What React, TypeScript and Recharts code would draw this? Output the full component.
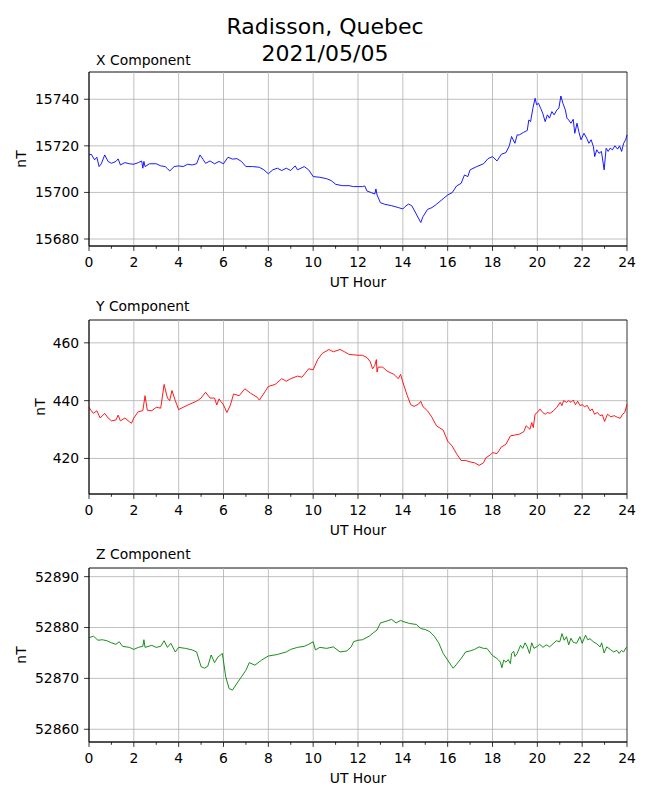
import React from 'react';
import { LineChart, Line, XAxis, YAxis, CartesianGrid, ReferenceLine, ReferenceArea } from 'recharts';

const HOUR_TICKS = [0, 1, 2, 3, 4, 5, 6, 7, 8, 9, 10, 11, 12, 13, 14, 15, 16, 17, 18, 19, 20, 21, 22, 23, 24];
const GRID_HOURS = [2, 4, 6, 8, 10, 12, 14, 16, 18, 20, 22];

// X component (nT)
const xHours = [
    0, 0.1, 0.25, 0.35, 0.45, 0.55, 0.7, 0.85, 1, 1.2, 1.3, 1.4, 1.6, 1.8, 2, 2.2, 2.35, 2.4, 2.45, 2.5, 2.7,
    3, 3.2, 3.4, 3.5, 3.6, 3.8, 4, 4.2, 4.4, 4.6, 4.8, 4.95, 5.1, 5.2, 5.4, 5.6, 5.8, 6, 6.2, 6.4, 6.6, 6.8,
    7, 7.3, 7.6, 7.8, 8, 8.2, 8.4, 8.6, 8.8, 9, 9.2, 9.3, 9.6, 9.8, 10, 10.3, 10.6, 10.8, 11, 11.3, 11.6, 11.8,
    12, 12.2, 12.3, 12.4, 12.6, 12.75, 12.8, 12.85, 13, 13.2, 13.5, 13.8, 14, 14.1, 14.25, 14.4, 14.6, 14.8,
    14.9, 15.1, 15.3, 15.5, 15.8, 16, 16.2, 16.4, 16.6, 16.75, 16.9, 17, 17.3, 17.6, 17.8, 18, 18.2, 18.4,
    18.6, 18.75, 18.85, 19, 19.1,
    19.2, 19.37, 19.55, 19.62, 19.7, 19.8, 19.9, 19.97, 20.05, 20.15,
    20.24, 20.35, 20.45, 20.54, 20.65, 20.75, 20.87, 20.96, 21.05, 21.14,
    21.25, 21.32, 21.4, 21.5, 21.6, 21.67, 21.77, 21.85, 21.95, 22.08,
    22.2, 22.3, 22.4, 22.5, 22.56, 22.65, 22.75, 22.86, 22.98, 23.07,
    23.16, 23.25, 23.35, 23.46, 23.58, 23.67, 23.76, 23.85, 23.94, 24,
];
const xValues = [
    15716.1, 15716.4, 15714.0, 15715.1, 15711.1, 15712.3, 15716.1, 15713.3, 15712.5, 15713.3, 15714.4, 15711.8,
    15712.8, 15712.3, 15712.1, 15712.8, 15713.5, 15710.4, 15713.3, 15711.1, 15712.3,
    15712.3, 15711.4, 15711.1, 15710.2, 15709.2, 15711.1, 15711.4, 15711.1, 15712.1, 15711.8, 15712.3, 15716.1,
    15714.0, 15712.5, 15713.5, 15712.3, 15713.3, 15712.3, 15715.1, 15714.3, 15714.5, 15713.3,
    15711.1, 15711.1, 15710.8, 15709.7, 15708.0, 15709.7, 15710.4, 15709.4, 15710.4, 15709.4, 15711.4, 15709.7,
    15711.1, 15709.7, 15706.8, 15706.5, 15705.9, 15705.1, 15703.5, 15702.9, 15702.9, 15702.5,
    15702.5, 15702.5, 15702.8, 15700.6, 15699.9, 15699.3, 15701.5, 15698.9, 15695.6, 15694.9, 15694.3, 15693.5,
    15692.9, 15693.9, 15695.0, 15694.3, 15690.7, 15687.1,
    15689.6, 15692.7, 15693.5, 15694.9, 15697.3, 15698.9, 15699.9, 15702.8, 15703.9, 15707.5, 15706.8, 15709.7,
    15711.1, 15712.3, 15714.5, 15715.4, 15713.5, 15716.4,
    15717.1, 15720.0, 15724.0, 15721.1, 15724.7,
    15724.7, 15725.7, 15726.6, 15731.1, 15730.4, 15736.1, 15740.4, 15737.6, 15738.3, 15736.1,
    15734.0, 15730.4, 15733.3, 15731.9, 15734.7, 15733.3, 15735.4, 15736.1, 15741.4, 15738.3,
    15735.4, 15731.9, 15731.1, 15729.7, 15731.4, 15725.4, 15729.7, 15726.1, 15722.6, 15725.4,
    15723.3, 15721.1, 15722.6, 15719.7, 15715.4, 15718.3, 15716.8, 15717.6, 15709.7, 15719.0,
    15717.6, 15719.0, 15718.3, 15720.0, 15718.6, 15720.0, 15717.6, 15721.1, 15722.6, 15724.7,
];

// Y component (nT)
const yHours = [
    0, 0.1, 0.2, 0.35, 0.5, 0.7, 0.85, 1, 1.2, 1.3, 1.4, 1.6, 1.8, 1.9, 2, 2.2, 2.4, 2.5, 2.6, 2.8,
    3, 3.2, 3.35, 3.5, 3.6, 3.7, 3.85, 4, 4.2, 4.5, 4.8, 5, 5.2, 5.4, 5.6, 5.7, 5.8, 6, 6.15, 6.3, 6.45, 6.7,
    6.95, 7.2, 7.5, 7.6, 7.85, 8, 8.3, 8.6, 8.8, 9, 9.3, 9.5, 9.8, 10, 10.2, 10.4, 10.7, 10.9, 11.2, 11.4, 11.6,
    12, 12.2, 12.4, 12.55, 12.65, 12.75, 12.82, 12.85, 12.9, 13.1, 13.3, 13.6, 13.8, 13.9, 14, 14.2, 14.35,
    14.5, 14.7, 14.8, 14.9, 15.1, 15.3, 15.5, 15.8, 16, 16.2, 16.4, 16.6, 16.8, 17, 17.2, 17.4, 17.6, 17.7,
    17.9, 18, 18.2, 18.4, 18.6, 18.8, 19, 19.2, 19.4,
    19.5, 19.67, 19.75, 19.82, 19.9, 20, 20.12, 20.24, 20.35, 20.45,
    20.57, 20.72, 20.87, 21.02, 21.1, 21.17, 21.3, 21.4, 21.5, 21.6,
    21.7, 21.8, 21.9, 22, 22.1, 22.23, 22.35, 22.45, 22.55, 22.68,
    22.8, 22.9, 23, 23.13, 23.28, 23.43, 23.58, 23.7, 23.8, 23.9,
    24,
];
const yValues = [
    437.7, 436.5, 435.6, 436.5, 434.0, 435.6, 434.0, 433.0, 433.3, 435.0, 433.0, 434.0, 432.7, 432.2, 434.0,
    436.2, 436.5, 441.7, 436.7, 436.5,
    437.7, 437.4, 445.6, 440.9, 440.0, 443.5, 440.0, 436.9, 437.7, 438.8, 439.8, 440.9, 442.9, 440.9, 440.9,
    438.5, 440.6, 438.5, 435.9, 438.3, 442.3, 441.7,
    444.1, 442.6, 441.2, 440.2, 443.1, 444.9, 445.6, 447.6, 446.7, 447.6, 448.5, 448.1, 451.0, 450.7, 454.2,
    456.3, 457.7, 456.9, 457.7, 456.9, 456.0,
    455.7, 455.7, 454.9, 453.4, 451.0, 452.2, 454.2, 449.9, 451.6, 451.6, 450.2, 449.1, 447.6, 449.1, 446.4,
    441.7, 438.6,
    438.0, 438.8, 439.8, 437.9, 436.5, 434.2, 431.3, 429.8, 426.0, 424.3, 421.6, 419.3, 419.3, 418.8, 418.5,
    417.6, 418.5, 420.2,
    421.2, 422.0, 421.7, 424.0, 424.9, 427.8, 428.1, 428.4, 429.3,
    431.3, 430.1, 432.4, 430.7, 435.3, 435.9, 437.1, 435.9, 435.3, 435.9,
    435.6, 436.5, 437.7, 439.4, 438.3, 440.0, 439.4, 440.0, 439.4, 440.2,
    438.6, 439.8, 438.3, 438.6, 437.9, 438.3, 436.5, 437.1, 435.3, 435.9,
    434.8, 435.1, 432.8, 435.3, 434.4, 434.8, 434.2, 433.9, 435.3, 435.9,
    438.8,
];

// Z component (nT)
const zHours = [
    0, 0.2, 0.4, 0.6, 0.8, 1, 1.2, 1.35, 1.5, 1.8, 2, 2.2, 2.4, 2.45, 2.5, 2.8, 3, 3.2, 3.35, 3.5, 3.65, 3.85,
    4, 4.3, 4.6, 4.8, 5, 5.15, 5.3, 5.45, 5.6, 5.75, 5.95, 6.1, 6.25, 6.4, 6.55, 6.8, 7, 7.15, 7.4, 7.7,
    8, 8.4, 8.8, 9, 9.3, 9.6, 9.8, 10, 10.1, 10.3, 10.6, 10.9, 11.2, 11.5, 11.7, 11.8,
    12, 12.2, 12.5, 12.75, 12.85, 13, 13.3, 13.5, 13.7, 13.9, 14, 14.3, 14.6, 14.8, 15, 15.2, 15.4, 15.6,
    15.8, 16, 16.15, 16.25, 16.4, 16.6, 16.8, 17, 17.2, 17.4,
    17.6, 17.75, 18, 18.2, 18.27, 18.35, 18.42, 18.5, 18.6, 18.7,
    18.8, 18.85, 18.95, 19, 19.1, 19.25, 19.35, 19.45, 19.55, 19.65,
    19.75, 19.85, 20, 20.1, 20.25, 20.4, 20.55, 20.7, 20.85, 21,
    21.1, 21.2, 21.3, 21.4, 21.5, 21.6, 21.75, 21.9, 22, 22.15,
    22.25, 22.35, 22.5, 22.65, 22.8, 22.87, 22.98, 23.1, 23.25, 23.4,
    23.55, 23.65, 23.75, 23.85, 23.95, 24,
];
const zValues = [
    52878.0, 52878.3, 52877.5, 52877.6, 52877.4, 52877.0, 52876.7, 52877.2, 52876.3, 52876.1, 52875.7, 52876.1,
    52876.3, 52877.6, 52876.1, 52876.5, 52876.1, 52876.3, 52877.4, 52876.1, 52876.9, 52875.2,
    52876.1, 52875.9, 52875.6, 52875.2, 52872.3, 52872.0, 52872.4, 52874.6, 52873.1, 52874.2, 52874.9, 52870.3,
    52868.0, 52867.7, 52868.7, 52870.3, 52871.6, 52873.1, 52872.6, 52873.6,
    52874.4, 52874.7, 52875.2, 52875.7, 52876.1, 52876.3, 52876.7, 52877.2, 52875.6, 52876.1, 52875.9, 52876.2,
    52875.2, 52875.4, 52876.2, 52877.2,
    52877.5, 52877.6, 52878.3, 52879.2, 52879.5, 52880.9, 52881.3, 52881.6, 52880.9, 52881.4, 52881.2, 52880.8,
    52880.6, 52879.8, 52879.6, 52879.2, 52878.3, 52877.0,
    52874.9, 52873.6, 52872.6, 52872.0, 52872.8, 52873.9, 52875.2, 52875.4, 52875.7, 52876.2,
    52875.9, 52875.9, 52874.5, 52873.9, 52873.6, 52873.2, 52872.1, 52873.6, 52873.2, 52873.7,
    52872.9, 52874.9, 52875.3, 52874.3, 52874.9, 52876.5, 52875.9, 52877.0, 52876.2, 52874.9,
    52877.0, 52875.9, 52876.3, 52876.7, 52876.1, 52876.6, 52876.2, 52876.8, 52877.4, 52877.2,
    52878.8, 52877.5, 52878.2, 52876.6, 52877.9, 52877.1, 52876.9, 52878.2, 52876.9, 52878.5,
    52877.6, 52877.8, 52877.2, 52876.8, 52876.2, 52877.0, 52875.0, 52876.2, 52875.7, 52875.2,
    52875.5, 52874.9, 52875.5, 52875.2, 52876.0, 52876.1,
];

const xTicks = [15680, 15700, 15720, 15740];
const yTicks = [420, 440, 460];
const zTicks = [52860, 52870, 52880, 52890];

const panels = [
    { title: 'X Component', hours: xHours, values: xValues, color: '#0000ff', domain: [15677, 15751.7], ticks: xTicks, top: 72, titleY: 64.5, unitX: 21 },
    { title: 'Y Component', hours: yHours, values: yValues, color: '#ff0000', domain: [407.7, 467.9], ticks: yTicks, top: 320, titleY: 311, unitX: 40 },
    { title: 'Z Component', hours: zHours, values: zValues, color: '#008000', domain: [52857.5, 52891.7], ticks: zTicks, top: 568, titleY: 559, unitX: 21 },
];

const PLOT_H = 174;
const PLOT_LEFT = 89;
const PLOT_RIGHT = 627;
const FONT = '"DejaVu Sans", sans-serif';

function HourTick(props: any) {
    const { x, y, payload } = props;
    const h = payload.value;
    const major = h % 2 === 0;
    return (
        <g>
            <line x1={x} x2={x} y1={y} y2={y + (major ? 4.9 : 2.8)} stroke="#000" strokeWidth={0.8} />
            {major && (
                <text x={x} y={y + 20.8} textAnchor="middle" fontSize={13.9} fill="#000" fontFamily={FONT}>
                    {h}
                </text>
            )}
        </g>
    );
}

function Panel({ p }: { p: any }) {
    const data = p.hours.map((h: number, i: number) => ({ hour: h, value: p.values[i] }));
    return (
        <div style={{ position: 'absolute', left: 0, top: p.top - 30 }}>
            <LineChart width={650} height={PLOT_H + 90} data={data} margin={{ top: 30, right: 650 - PLOT_RIGHT, bottom: 0, left: 0 }}>
                <CartesianGrid vertical={false} stroke="#b0b0b0" strokeWidth={0.8} />
                {GRID_HOURS.map((h) => (
                    <ReferenceLine key={h} x={h} stroke="#b0b0b0" strokeWidth={0.8} />
                ))}
                <XAxis
                    dataKey="hour"
                    type="number"
                    domain={[0, 24]}
                    ticks={HOUR_TICKS}
                    interval={0}
                    tick={HourTick}
                    tickLine={false}
                    tickSize={0}
                    tickMargin={0}
                    axisLine={{ stroke: '#000', strokeWidth: 0.8 }}
                    height={60}
                />
                <YAxis
                    type="number"
                    domain={p.domain}
                    ticks={p.ticks}
                    interval={0}
                    allowDataOverflow
                    width={PLOT_LEFT}
                    tickSize={4.9}
                    tickMargin={4.9}
                    tick={{ fontSize: 13.9, fill: '#000', fontFamily: FONT }}
                    tickLine={{ stroke: '#000', strokeWidth: 0.8 }}
                    axisLine={{ stroke: '#000', strokeWidth: 0.8 }}
                />
                <Line
                    type="linear"
                    dataKey="value"
                    stroke={p.color}
                    strokeWidth={0.9}
                    dot={false}
                    isAnimationActive={false}
                />
                <ReferenceArea x1={0} x2={24} y1={p.domain[0]} y2={p.domain[1]} fill="none" fillOpacity={0} stroke="#000" strokeWidth={0.8} />
            </LineChart>
        </div>
    );
}

export default function App() {
    return (
        <div style={{ position: 'absolute', left: 0, top: 0, width: 650, height: 800, background: '#fff', fontFamily: FONT }}>
            {panels.map((p) => (
                <Panel key={p.title} p={p} />
            ))}
            <svg width={650} height={800} style={{ position: 'absolute', left: 0, top: 0, pointerEvents: 'none' }}>
                <text x={325} y={34} textAnchor="middle" fontSize={22} fill="#000" fontFamily={FONT}>Radisson, Quebec</text>
                <text x={325} y={61} textAnchor="middle" fontSize={22} fill="#000" fontFamily={FONT}>2021/05/05</text>
                {panels.map((p) => (
                    <g key={p.title}>
                        <text x={96} y={p.titleY} fontSize={13.9} fill="#000" fontFamily={FONT}>{p.title}</text>
                        <text x={(PLOT_LEFT + PLOT_RIGHT) / 2} y={p.top + PLOT_H + 40.8} textAnchor="middle" fontSize={13.9} fill="#000" fontFamily={FONT}>UT Hour</text>
                        <text
                            x={p.unitX}
                            y={p.top + PLOT_H / 2}
                            textAnchor="middle"
                            dominantBaseline="central"
                            fontSize={13.9}
                            fill="#000"
                            fontFamily={FONT}
                            transform={`rotate(-90 ${p.unitX} ${p.top + PLOT_H / 2})`}
                        >
                            nT
                        </text>
                    </g>
                ))}
            </svg>
        </div>
    );
}
